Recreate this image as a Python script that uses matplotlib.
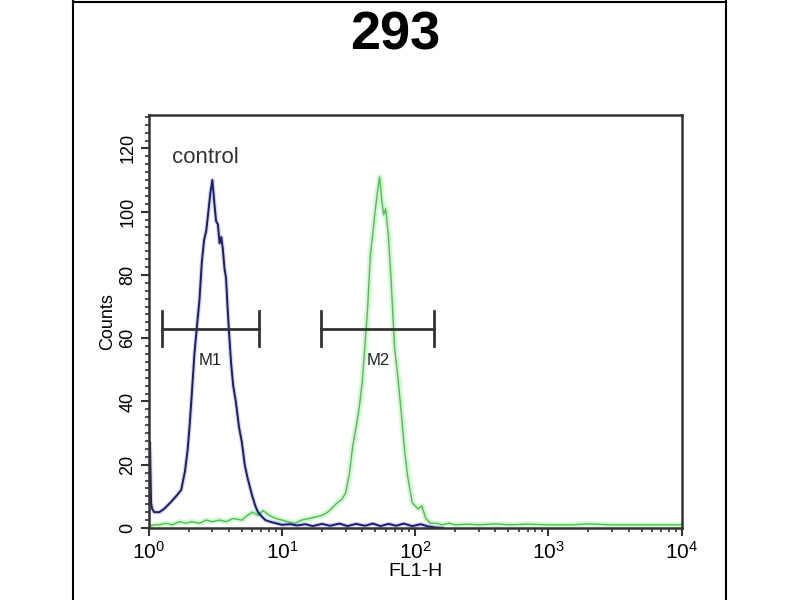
import matplotlib.pyplot as plt
from matplotlib.ticker import MultipleLocator, LogLocator, NullFormatter
from matplotlib.lines import Line2D

plt.rcParams['font.family'] = ['Liberation Sans', 'DejaVu Sans']
narrow = ['Liberation Sans Narrow', 'Liberation Sans']

# control histogram (blue)
blue_x = [1.0, 1.02, 1.04, 1.06, 1.1, 1.2, 1.3, 1.45, 1.6, 1.75, 1.87, 1.96, 2.03,
          2.1, 2.2, 2.3, 2.4, 2.5, 2.6, 2.7, 2.8, 2.9, 3.0, 3.1, 3.2, 3.3, 3.4,
          3.5, 3.6, 3.7, 3.8, 3.9, 4.0, 4.15, 4.3, 4.5, 4.75, 5.0, 5.25, 5.5,
          5.9, 6.3, 6.6, 7.1, 7.5, 8.1, 9, 10, 11.5, 13, 15, 17, 20, 23, 27,
          31, 36, 42, 48, 55, 63, 72, 82, 95, 110, 125, 140, 160]
blue_y = [14, 27, 8, 6, 5, 5, 6, 8, 10, 12, 18, 25, 33,
          42, 55, 64, 72, 84, 91, 94, 100, 106, 110, 103, 97, 96, 90,
          92, 88, 82, 79, 70, 62, 52, 45, 40, 32, 27, 20, 16,
          11, 7, 5, 3.5, 2.5, 2, 1.5, 1, 1.2, 0.8, 1.2, 0.6, 1.3, 0.7, 1.4,
          0.6, 1.3, 0.7, 1.4, 0.6, 1.3, 0.7, 1.4, 0.6, 1.2, 0.5, 0.2, 0]

# sample histogram (green)
green_x = [1.0, 1.1, 1.2, 1.35, 1.5, 1.7, 1.9, 2.1, 2.4, 2.7, 3.0, 3.4, 3.8, 4.3,
           5.0, 5.5, 6.0, 6.6, 7.2, 8.0, 9, 10, 11, 12.5, 14, 16, 18, 20, 22,
           24, 26, 28, 30, 32, 34, 36, 38, 40, 42, 44, 46, 48, 50, 52, 54, 56,
           58, 60, 63, 66, 70, 74, 78, 83, 88, 95, 100, 105, 112, 120, 130,
           145, 160, 180, 200, 250, 300, 400, 500, 700, 1000, 1500, 2000,
           3000, 5000, 10000]
green_y = [0.5, 1, 1, 1.5, 1, 2, 1.5, 2, 1.5, 2.5, 2, 2.5, 2, 3,
           2.5, 4, 5, 4, 5.5, 4, 3, 2.5, 2, 1.5, 2.5, 3, 3.5, 4, 5,
           6.5, 8, 9, 11, 17, 26, 32, 38, 46, 58, 70, 86, 93, 100, 106, 111, 104,
           99, 101, 92, 78, 57, 48, 38, 25, 16, 8, 7, 6, 7, 3, 1.5,
           1.5, 1, 1.5, 1, 1.2, 1, 1.3, 1, 1.2, 1, 1, 1.3,
           1, 1, 1]

markers = ['M1', 'M2']
marker_lo = [1.25, 19.7]
marker_hi = [6.7, 139]
marker_level = 63
marker_text_x = [2.88, 52.7]
marker_text_y = 53

fig = plt.figure(figsize=(8, 6), dpi=100)
ax = fig.add_axes([0.186, 0.12, 0.666, 0.688])

ax.plot(green_x, green_y, color='#aaf0aa', lw=4, alpha=0.5)
ax.plot(green_x, green_y, color='#4cc050', lw=1.0)
ax.plot(blue_x, blue_y, color='#6a6ad8', lw=3, alpha=0.3)
ax.plot(blue_x, blue_y, color='#1c1c70', lw=1.4)

for name, lo, hi, tx in zip(markers, marker_lo, marker_hi, marker_text_x):
    ax.plot([lo, hi], [marker_level, marker_level], color='#333333', lw=2)
    ax.plot([lo, lo], [marker_level - 5.5, marker_level + 5.5], color='#333333', lw=2)
    ax.plot([hi, hi], [marker_level - 5.5, marker_level + 5.5], color='#333333', lw=2)
    ax.text(tx, marker_text_y, name, ha='center', va='center', fontsize=12,
            family=narrow, color='#222222')

ax.text(1.49, 117, 'control', ha='left', va='center', fontsize=16, color='#333333')

ax.set_xscale('log')
ax.set_xlim(1, 10000)
ax.set_ylim(0, 130.5)
ax.xaxis.set_major_locator(LogLocator(base=10, numticks=10))
ax.xaxis.set_minor_locator(LogLocator(base=10, subs=range(2, 10), numticks=50))
ax.xaxis.set_minor_formatter(NullFormatter())
ax.yaxis.set_major_locator(MultipleLocator(20))
ax.yaxis.set_minor_locator(MultipleLocator(2.5))

for s in ax.spines.values():
    s.set_linewidth(1.8)
    s.set_color('#333333')
ax.tick_params(which='major', direction='out', length=6, width=1.5, color='#333333',
               labelsize=15, top=False, right=False)
ax.tick_params(which='minor', direction='out', length=3, width=1.2, color='#333333',
               top=False, right=False)
ax.tick_params(axis='y', which='major', labelsize=13, pad=3)
for lab in ax.get_yticklabels():
    lab.set_rotation(90)
    lab.set_va('center')
    lab.set_family(narrow)
ax.set_ylabel('Counts', fontsize=13, labelpad=2)
ax.set_xlabel('FL1-H', fontsize=14, labelpad=0)

fig.text(0.494, 1 - 36 / 600, '293', ha='center', va='center', fontsize=39,
         weight='bold')

# outer frame
fig.add_artist(Line2D([73 / 800, 73 / 800], [0, 1 - 1 / 600], color='black', lw=1.5))
fig.add_artist(Line2D([726 / 800, 726 / 800], [0, 1 - 1 / 600], color='black', lw=1.5))
fig.add_artist(Line2D([73 / 800, 726 / 800], [1 - 1.5 / 600, 1 - 1.5 / 600], color='black', lw=1.5))

fig.savefig('out.png', dpi=100)
